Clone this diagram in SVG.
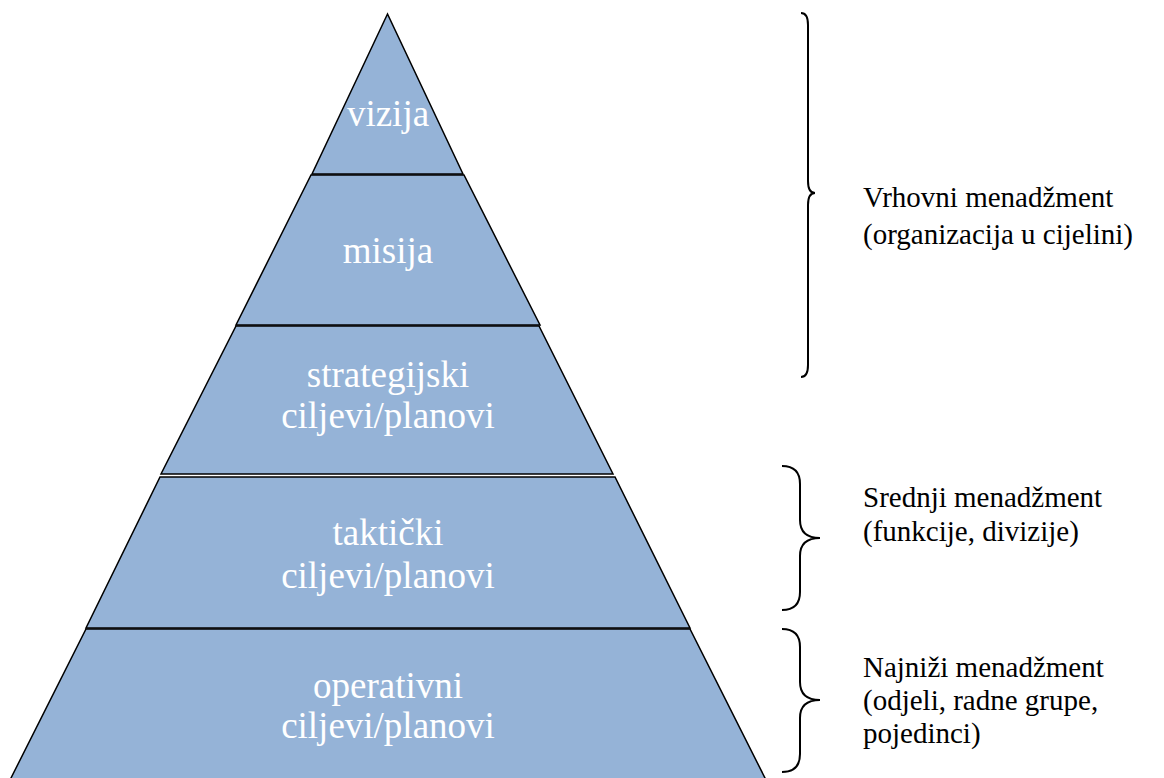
<svg xmlns="http://www.w3.org/2000/svg" width="1164" height="778" viewBox="0 0 1164 778">
<style>
.layer{fill:#95B3D7;stroke:#000;stroke-width:1.5;stroke-linejoin:miter}
.lt{font-family:'Liberation Serif','Times New Roman',serif;font-size:37px;fill:#fff;text-anchor:middle}
.rt{font-family:'Liberation Serif','Times New Roman',serif;font-size:29px;fill:#000}
.brace{fill:none;stroke:#000;stroke-width:2}
</style>
<rect width="1164" height="778" fill="#fff"/>
<g id="layer-vizija">
<polygon class="layer" points="387.5,14 312,174 463,174"/>
<text class="lt" x="388" y="126">vizija</text>
</g>
<g id="layer-misija">
<polygon class="layer" points="311,175 464,175 540,325 236,325"/>
<text class="lt" x="388" y="263">misija</text>
</g>
<g id="layer-strategijski">
<polygon class="layer" points="236,326 539,326 613,474 161,474"/>
<text class="lt" x="388" y="387">strategijski</text>
<text class="lt" x="388" y="428">ciljevi/planovi</text>
</g>
<g id="layer-takticki">
<polygon class="layer" points="160,477 615,477 690,628 86,628"/>
<text class="lt" x="388" y="545">taktički</text>
<text class="lt" x="388" y="588">ciljevi/planovi</text>
</g>
<g id="layer-operativni">
<polygon class="layer" points="86,629 690,629 766,780 10,780"/>
<text class="lt" x="388" y="698">operativni</text>
<text class="lt" x="388" y="738">ciljevi/planovi</text>
</g>
<g id="connectors">
<path class="brace" d="M801,13 Q808,13 808,25 L808,181 Q808,193 815,193 Q808,193 808,205 L808,365 Q808,377 801,377"/>
<path class="brace" d="M782,466 Q800,466 800,484 L800,520 Q800,538 820,538 Q800,538 800,556 L800,592 Q800,610 782,610"/>
<path class="brace" d="M782,629 Q800,629 800,647 L800,682 Q800,700 820,700 Q800,700 800,718 L800,754 Q800,772 782,772"/>
</g>
<g id="label-vrhovni">
<text class="rt" x="863" y="207">Vrhovni menadžment</text>
<text class="rt" x="863" y="244">(organizacija u cijelini)</text>
</g>
<g id="label-srednji">
<text class="rt" x="863" y="507">Srednji menadžment</text>
<text class="rt" x="863" y="541">(funkcije, divizije)</text>
</g>
<g id="label-najnizi">
<text class="rt" x="863" y="677">Najniži menadžment</text>
<text class="rt" x="863" y="710">(odjeli, radne grupe,</text>
<text class="rt" x="863" y="743">pojedinci)</text>
</g>
</svg>
